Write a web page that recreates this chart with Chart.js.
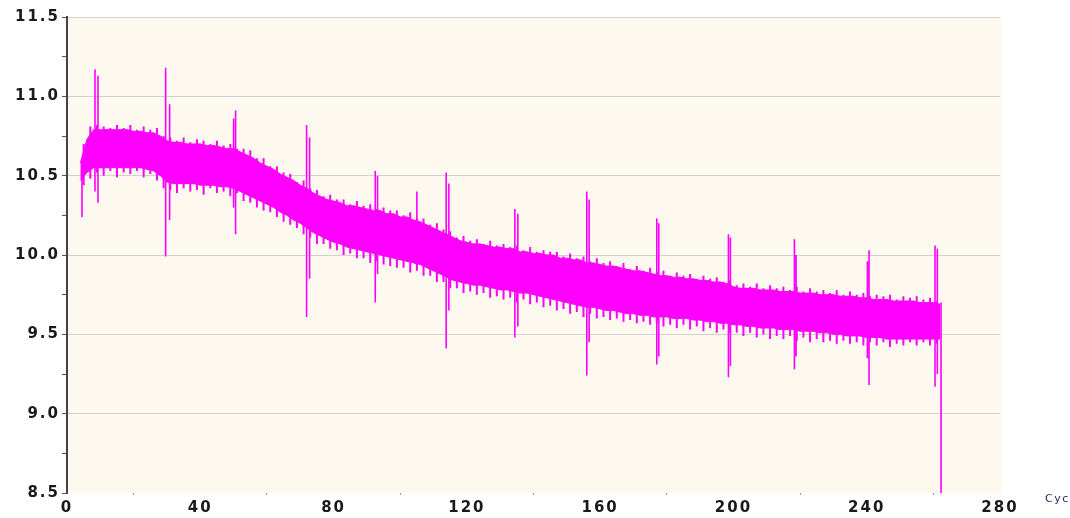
<!DOCTYPE html>
<html>
<head>
<meta charset="utf-8">
<script src="https://cdn.jsdelivr.net/npm/chart.js@4.4.0/dist/chart.umd.min.js"></script>
<style>
  html, body { margin: 0; padding: 0; background: #fff; }
  #wrap { width: 1070px; height: 518px; }
</style>
</head>
<body>
<div id="wrap"><canvas id="cycleChart" width="1070" height="518"></canvas></div>
<script>
// cycle positions of the solid band
const cycles = [4,6,8,10,12,14,16,18,20,22,24,26,28,30,32,34,36,38,40,42,44,46,48,50,52,54,56,58,60,62,64,66,68,70,72,74,76,78,80,82,84,86,88,90,92,94,96,98,100,102,104,106,108,110,112,114,116,118,120,122,124,126,128,130,132,134,136,138,140,142,144,146,148,150,152,154,156,158,160,162,164,166,168,170,172,174,176,178,180,182,184,186,188,190,192,194,196,198,200,202,204,206,208,210,212,214,216,218,220,222,224,226,228,230,232,234,236,238,240,242,244,246,248,250,252,254,256,258,260,262];
// top and bottom of the solid part of the band
const bandHigh = [10.58,10.73,10.79,10.79,10.79,10.79,10.79,10.79,10.78,10.78,10.77,10.77,10.75,10.72,10.71,10.71,10.70,10.70,10.70,10.69,10.69,10.68,10.67,10.67,10.65,10.63,10.61,10.58,10.56,10.54,10.51,10.49,10.47,10.44,10.42,10.39,10.37,10.35,10.34,10.33,10.31,10.31,10.30,10.29,10.28,10.28,10.26,10.26,10.24,10.24,10.22,10.21,10.19,10.17,10.15,10.13,10.11,10.09,10.08,10.07,10.07,10.06,10.05,10.05,10.04,10.04,10.02,10.02,10.01,10.01,10.00,10.00,9.98,9.98,9.97,9.97,9.95,9.95,9.94,9.93,9.93,9.92,9.91,9.90,9.90,9.89,9.88,9.87,9.87,9.86,9.86,9.85,9.85,9.84,9.84,9.83,9.83,9.82,9.80,9.79,9.79,9.79,9.78,9.78,9.78,9.77,9.77,9.77,9.76,9.76,9.76,9.75,9.75,9.75,9.74,9.74,9.74,9.73,9.73,9.72,9.72,9.72,9.71,9.71,9.71,9.71,9.70,9.70,9.70,9.69];
const bandLow = [10.47,10.52,10.55,10.55,10.55,10.55,10.55,10.55,10.55,10.55,10.54,10.53,10.50,10.46,10.45,10.45,10.45,10.45,10.44,10.44,10.44,10.43,10.43,10.42,10.40,10.38,10.36,10.34,10.32,10.30,10.27,10.25,10.22,10.20,10.17,10.14,10.12,10.10,10.08,10.07,10.05,10.04,10.03,10.02,10.01,10.00,9.99,9.98,9.97,9.96,9.95,9.94,9.92,9.90,9.88,9.86,9.84,9.83,9.82,9.81,9.81,9.80,9.79,9.78,9.78,9.77,9.76,9.76,9.75,9.74,9.73,9.72,9.71,9.70,9.69,9.68,9.67,9.67,9.66,9.65,9.65,9.64,9.63,9.63,9.62,9.62,9.61,9.61,9.61,9.60,9.60,9.60,9.59,9.59,9.58,9.58,9.57,9.57,9.56,9.56,9.55,9.55,9.54,9.54,9.54,9.53,9.53,9.53,9.52,9.52,9.52,9.51,9.51,9.50,9.50,9.49,9.49,9.49,9.48,9.48,9.48,9.47,9.47,9.47,9.47,9.47,9.47,9.47,9.47,9.47];
// noise slivers sticking out of the band: cycle, top, bottom
const sliverCycle = [5,7,9,11,13,15,17,19,21,23,25,27,29,31,33,35,37,39,41,43,45,47,49,51,53,55,57,59,61,63,65,67,69,71,73,75,77,79,81,83,85,87,89,91,93,95,97,99,101,103,105,107,109,111,113,115,117,119,121,123,125,127,129,131,133,135,137,139,141,143,145,147,149,151,153,155,157,159,161,163,165,167,169,171,173,175,177,179,181,183,185,187,189,191,193,195,197,199,201,203,205,207,209,211,213,215,217,219,221,223,225,227,229,231,233,235,237,239,241,243,245,247,249,251,253,255,257,259,261];
const sliverHigh = [10.70,10.81,10.82,10.81,10.80,10.82,10.80,10.82,10.79,10.81,10.79,10.80,10.75,10.74,10.72,10.74,10.71,10.73,10.72,10.70,10.72,10.69,10.70,10.67,10.67,10.66,10.61,10.61,10.56,10.56,10.52,10.51,10.46,10.47,10.42,10.41,10.37,10.38,10.35,10.35,10.32,10.34,10.31,10.32,10.29,10.30,10.28,10.28,10.25,10.27,10.23,10.23,10.19,10.20,10.16,10.15,10.11,10.12,10.09,10.10,10.07,10.09,10.06,10.07,10.05,10.06,10.03,10.05,10.02,10.03,10.02,10.02,9.99,10.01,9.98,9.99,9.96,9.98,9.95,9.96,9.93,9.95,9.91,9.93,9.90,9.92,9.89,9.90,9.87,9.89,9.87,9.88,9.85,9.87,9.85,9.86,9.83,9.84,9.81,9.82,9.80,9.82,9.79,9.81,9.79,9.80,9.78,9.80,9.77,9.79,9.77,9.78,9.76,9.78,9.75,9.77,9.75,9.76,9.74,9.75,9.74,9.75,9.72,9.74,9.73,9.74,9.72,9.73,9.71];
const sliverLow = [10.44,10.48,10.52,10.50,10.53,10.49,10.52,10.51,10.53,10.49,10.51,10.47,10.42,10.41,10.39,10.42,10.40,10.41,10.38,10.42,10.39,10.40,10.37,10.39,10.34,10.33,10.30,10.28,10.27,10.24,10.21,10.19,10.17,10.13,10.11,10.07,10.07,10.04,10.03,10.00,10.01,9.98,9.98,9.95,9.96,9.94,9.93,9.92,9.92,9.89,9.90,9.87,9.87,9.83,9.83,9.79,9.79,9.76,9.77,9.75,9.76,9.73,9.74,9.72,9.73,9.70,9.72,9.69,9.70,9.67,9.68,9.65,9.66,9.63,9.64,9.61,9.63,9.60,9.61,9.59,9.60,9.58,9.59,9.57,9.58,9.56,9.57,9.55,9.56,9.54,9.56,9.53,9.55,9.52,9.54,9.51,9.53,9.51,9.51,9.49,9.51,9.48,9.50,9.47,9.49,9.47,9.49,9.46,9.48,9.45,9.47,9.45,9.46,9.44,9.46,9.44,9.45,9.43,9.45,9.43,9.45,9.42,9.44,9.43,9.45,9.43,9.45,9.43,9.44];
// isolated spikes: cycle, top, bottom
const spikeCycle = [4.5,8.4,9.3,29.6,30.8,50.0,50.6,71.9,72.8,92.5,93.2,105.0,113.8,114.6,134.4,135.3,156.0,156.7,177.0,177.6,198.5,199.1,218.3,218.8,240.2,240.7,260.5,261.2,262.3];
const spikeHigh = [10.60,11.17,11.13,11.18,10.95,10.86,10.91,10.82,10.74,10.53,10.50,10.40,10.52,10.45,10.29,10.26,10.40,10.35,10.23,10.20,10.13,10.11,10.10,10.00,9.96,10.03,10.06,10.04,9.70];
const spikeLow = [10.24,10.40,10.33,9.99,10.22,10.30,10.13,9.61,9.85,9.70,9.88,10.05,9.41,9.65,9.48,9.55,9.24,9.45,9.31,9.36,9.23,9.30,9.28,9.36,9.35,9.18,9.17,9.25,8.40];

const MAGENTA = '#ff00ff';
const isHalf = v => Math.abs(v * 2 - Math.round(v * 2)) < 1e-6;

const highPts = cycles.map((c, i) => ({ x: c, y: bandHigh[i] }));
const lowPts = cycles.map((c, i) => ({ x: c, y: bandLow[i] }));
const segments = (xs, hi, lo) => {
  const pts = [];
  xs.forEach((c, i) => pts.push({ x: c, y: lo[i] }, { x: c, y: hi[i] }, { x: c, y: null }));
  return pts;
};

const plotBg = {
  id: 'plotBg',
  beforeDraw(chart) {
    const { ctx, chartArea: a } = chart;
    ctx.save();
    ctx.fillStyle = '#fdf9ee';
    ctx.fillRect(a.left, a.top, a.right - a.left + 2, a.bottom - a.top);
    ctx.restore();
    ctx.letterSpacing = '2px';
  },
  afterDraw(chart) {
    const { ctx, chartArea: a } = chart;
    ctx.save();
    ctx.letterSpacing = '1.5px';
    ctx.fillStyle = '#1c2a5c';
    ctx.font = '11px "DejaVu Sans"';
    ctx.textBaseline = 'top';
    ctx.fillText('Cycle', a.right + 45, a.bottom + 1);
    ctx.restore();
    ctx.letterSpacing = '0px';
  }
};

new Chart(document.getElementById('cycleChart'), {
  type: 'line',
  data: {
    datasets: [
      { data: highPts, borderColor: MAGENTA, backgroundColor: MAGENTA, borderWidth: 1, fill: '+1', pointRadius: 0 },
      { data: lowPts, borderColor: MAGENTA, backgroundColor: MAGENTA, borderWidth: 1, fill: false, pointRadius: 0 },
      { data: segments(sliverCycle, sliverHigh, sliverLow), borderColor: MAGENTA, borderWidth: 2, fill: false, pointRadius: 0, spanGaps: false },
      { data: segments(spikeCycle, spikeHigh, spikeLow), borderColor: MAGENTA, borderWidth: 1.6, fill: false, pointRadius: 0, spanGaps: false }
    ]
  },
  options: {
    responsive: false,
    animation: false,
    devicePixelRatio: 1,
    layout: { padding: { top: 17, right: 70, left: 0, bottom: 0 } },
    plugins: { legend: { display: false }, tooltip: { enabled: false } },
    scales: {
      x: {
        type: 'linear', min: 0, max: 280,
        afterFit: s => { s.height = 25; },
        border: { display: false },
        grid: {
          drawOnChartArea: false, tickLength: 2,
          tickColor: c => (c.tick && c.tick.value % 40 !== 0) ? '#999' : 'rgba(0,0,0,0)'
        },
        ticks: {
          stepSize: 20, autoSkip: false, maxRotation: 0, padding: 4,
          color: '#1a1a1a', font: { family: 'DejaVu Sans', size: 15, weight: 'bold' },
          callback: v => v % 40 === 0 ? String(v) : ''
        }
      },
      y: {
        min: 8.5, max: 11.5,
        afterFit: s => { s.width = 67; },
        border: { color: '#444', width: 2 },
        grid: {
          color: c => (c.tick && isHalf(c.tick.value) && c.tick.value > 8.5) ? '#d2d2d2' : 'rgba(0,0,0,0)',
          tickColor: '#555', tickLength: 5
        },
        ticks: {
          stepSize: 0.25, autoSkip: false, padding: 2,
          color: '#1a1a1a', font: { family: 'DejaVu Sans', size: 15, weight: 'bold' },
          callback: v => isHalf(v) ? v.toFixed(1) : ''
        }
      }
    }
  },
  plugins: [plotBg]
});
</script>
</body>
</html>
